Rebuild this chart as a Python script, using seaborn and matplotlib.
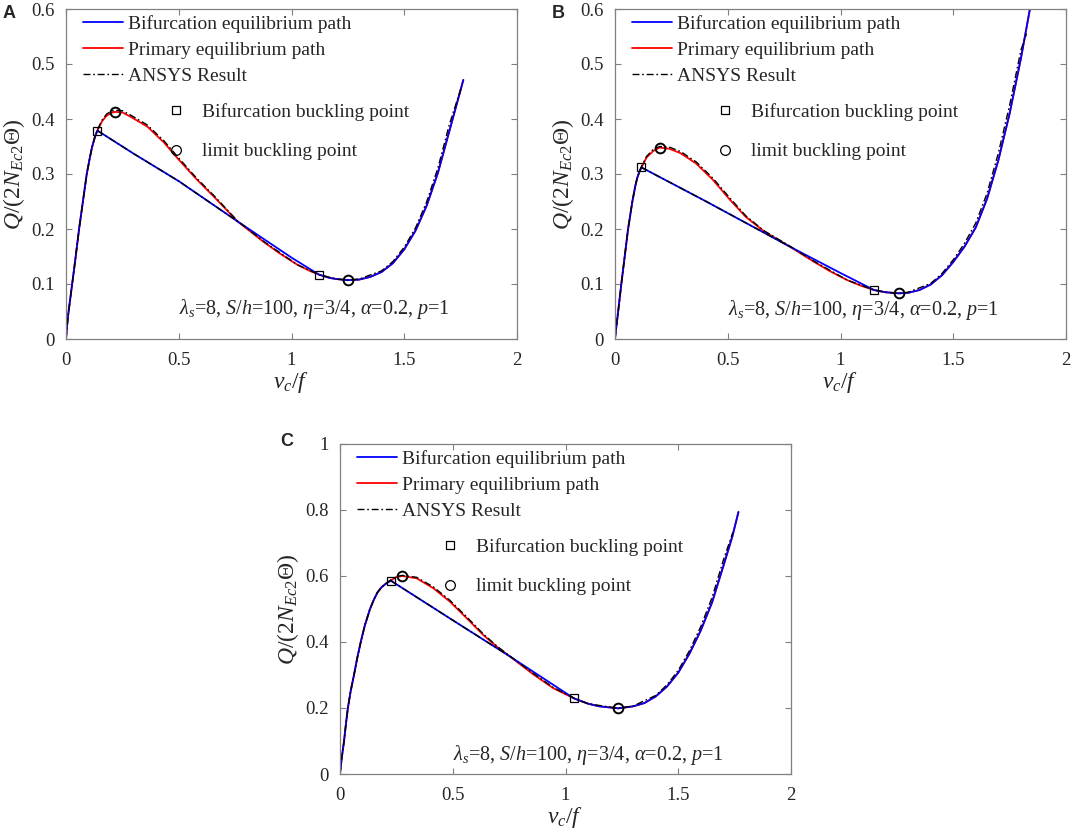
import numpy as np
import matplotlib
matplotlib.use("Agg")
import matplotlib.pyplot as plt
from matplotlib.lines import Line2D
import seaborn as sns

# ---------------- panel A ----------------
A_rise_x = [0, 0.005, 0.01, 0.021, 0.04, 0.058, 0.075, 0.092, 0.105, 0.115, 0.128, 0.139]
A_rise_y = [0, 0.025, 0.045, 0.08, 0.14, 0.2, 0.25, 0.3, 0.328, 0.348, 0.367, 0.379]
A_hump_x = [0.139, 0.16, 0.18, 0.2, 0.216, 0.25, 0.287, 0.361, 0.435, 0.5, 0.58, 0.66, 0.76, 0.878, 0.95, 1.026, 1.08, 1.122]
A_hump_y = [0.379, 0.396, 0.406, 0.411, 0.413, 0.412, 0.404, 0.386, 0.357, 0.326, 0.29, 0.257, 0.214, 0.176, 0.155, 0.135, 0.124, 0.117]
A_chord_x = [0.139, 0.3, 0.5, 0.76, 1.0, 1.122]
A_chord_y = [0.379, 0.337, 0.287, 0.214, 0.148, 0.117]
A_tail_x = [1.122, 1.17, 1.2, 1.25, 1.3, 1.35, 1.4, 1.45, 1.5, 1.55, 1.6, 1.65, 1.7, 1.73, 1.762]
A_tail_y = [0.117, 0.111, 0.109, 0.107, 0.108, 0.113, 0.122, 0.138, 0.163, 0.197, 0.243, 0.303, 0.378, 0.423, 0.471]
A_ansys_x = [0, 0.01, 0.021, 0.04, 0.058, 0.075, 0.092, 0.105, 0.115, 0.128, 0.139, 0.16, 0.18, 0.2, 0.216, 0.25, 0.287,
             0.361, 0.435, 0.5, 0.58, 0.66, 0.76, 0.878, 1.026, 1.122, 1.2, 1.25, 1.3, 1.4, 1.45, 1.5,
             1.55, 1.6, 1.65, 1.7, 1.755]
A_ansys_y = [0, 0.045, 0.08, 0.14, 0.2, 0.25, 0.3, 0.328, 0.348, 0.367, 0.38, 0.398, 0.409, 0.414, 0.416, 0.415, 0.407,
             0.389, 0.36, 0.329, 0.292, 0.259, 0.215, 0.177, 0.135, 0.117, 0.109, 0.107, 0.109, 0.124, 0.141, 0.167,
             0.202, 0.25, 0.312, 0.39, 0.46]
A_ansys_chord_x = [0.139, 0.3, 0.5, 0.76]
A_ansys_chord_y = [0.379, 0.337, 0.287, 0.214]
A_bif_x = [0.139, 1.122]
A_bif_y = [0.379, 0.117]
A_lim_x = [0.216, 1.25]
A_lim_y = [0.413, 0.107]

# ---------------- panel B ----------------
B_rise_x = [0, 0.004, 0.01, 0.018, 0.028, 0.043, 0.058, 0.077, 0.09, 0.098, 0.108, 0.117]
B_rise_y = [0, 0.016, 0.036, 0.064, 0.1, 0.15, 0.2, 0.25, 0.278, 0.292, 0.304, 0.312]
B_hump_x = [0.117, 0.14, 0.17, 0.198, 0.24, 0.29, 0.36, 0.435, 0.51, 0.58, 0.66, 0.775, 0.88, 0.95, 1.03, 1.09, 1.149]
B_hump_y = [0.312, 0.33, 0.342, 0.348, 0.346, 0.338, 0.319, 0.289, 0.253, 0.222, 0.196, 0.168, 0.141, 0.124, 0.107, 0.097, 0.089]
B_chord_x = [0.117, 0.4, 0.775, 1.0, 1.149]
B_chord_y = [0.312, 0.251, 0.168, 0.12, 0.089]
B_tail_x = [1.149, 1.2, 1.259, 1.3, 1.35, 1.4, 1.45, 1.5, 1.55, 1.6, 1.65, 1.7, 1.75, 1.8, 1.84, 1.87]
B_tail_y = [0.089, 0.085, 0.083, 0.084, 0.089, 0.099, 0.116, 0.14, 0.168, 0.203, 0.255, 0.325, 0.41, 0.51, 0.6, 0.67]
B_ansys_x = [0, 0.01, 0.018, 0.028, 0.043, 0.058, 0.077, 0.09, 0.098, 0.108, 0.117, 0.14, 0.17, 0.198, 0.24, 0.29, 0.36,
             0.435, 0.51, 0.58, 0.66, 0.775, 0.88, 1.03, 1.149, 1.2, 1.259, 1.3, 1.4, 1.45, 1.5,
             1.55, 1.6, 1.65, 1.7, 1.75, 1.8, 1.825]
B_ansys_y = [0, 0.036, 0.064, 0.1, 0.15, 0.2, 0.25, 0.278, 0.292, 0.304, 0.313, 0.332, 0.345, 0.35, 0.349, 0.341, 0.322,
             0.292, 0.256, 0.224, 0.197, 0.169, 0.142, 0.107, 0.089, 0.085, 0.083, 0.085, 0.101, 0.119, 0.144,
             0.174, 0.211, 0.265, 0.338, 0.425, 0.525, 0.555]
B_ansys_chord_x = [0.117, 0.4, 0.775]
B_ansys_chord_y = [0.312, 0.251, 0.168]
B_bif_x = [0.117, 1.149]
B_bif_y = [0.312, 0.089]
B_lim_x = [0.198, 1.259]
B_lim_y = [0.348, 0.083]

# ---------------- panel C ----------------
C_rise_x = [0, 0.004, 0.008, 0.013, 0.018, 0.026, 0.035, 0.047, 0.062, 0.076, 0.092, 0.11, 0.133, 0.15,
            0.166, 0.183, 0.2, 0.213, 0.225]
C_rise_y = [0, 0.025, 0.05, 0.075, 0.1, 0.15, 0.2, 0.25, 0.3, 0.35, 0.4, 0.45, 0.5, 0.528,
            0.55, 0.565, 0.575, 0.581, 0.586]
C_hump_x = [0.225, 0.25, 0.276, 0.34, 0.414, 0.488, 0.562, 0.636, 0.695, 0.754, 0.857, 0.946, 1.038]
C_hump_y = [0.586, 0.597, 0.6, 0.593, 0.563, 0.522, 0.472, 0.421, 0.386, 0.356, 0.302, 0.26, 0.229]
C_chord_x = [0.225, 0.5, 0.754, 1.038]
C_chord_y = [0.586, 0.466, 0.356, 0.229]
C_tail_x = [1.038, 1.1, 1.15, 1.234, 1.3, 1.35, 1.4, 1.45, 1.5, 1.55, 1.6, 1.65, 1.7, 1.74, 1.767]
C_tail_y = [0.229, 0.213, 0.205, 0.199, 0.205, 0.215, 0.235, 0.265, 0.307, 0.365, 0.435, 0.52, 0.63, 0.72, 0.794]
C_ansys_x = [0, 0.008, 0.018, 0.026, 0.035, 0.047, 0.062, 0.076, 0.092, 0.11, 0.133, 0.15, 0.166, 0.183, 0.2,
             0.213, 0.225, 0.25, 0.276, 0.34, 0.414,
             0.488, 0.562, 0.636, 0.695, 0.754, 0.857, 0.946, 1.038, 1.1, 1.234, 1.3, 1.4, 1.45,
             1.5, 1.55, 1.6, 1.65, 1.7, 1.742]
C_ansys_y = [0, 0.05, 0.1, 0.15, 0.2, 0.25, 0.3, 0.35, 0.4, 0.45, 0.5, 0.528, 0.55, 0.565, 0.576,
             0.582, 0.588, 0.598, 0.602, 0.596, 0.567,
             0.526, 0.476, 0.424, 0.388, 0.357, 0.305, 0.262, 0.23, 0.213, 0.199, 0.206, 0.238, 0.27,
             0.314, 0.374, 0.447, 0.535, 0.648, 0.732]
C_ansys_chord_x = [0.225, 0.5, 0.754]
C_ansys_chord_y = [0.586, 0.466, 0.356]
C_bif_x = [0.225, 1.038]
C_bif_y = [0.586, 0.229]
C_lim_x = [0.276, 1.234]
C_lim_y = [0.6, 0.199]

legend_lines = ["Bifurcation equilibrium path", "Primary equilibrium path", "ANSYS Result"]
legend_points = ["Bifurcation buckling point", "limit buckling point"]
param_text = r"$\lambda_s$=8, $S/h$=100, $\eta$=3/4, $\alpha$=0.2, $p$=1"

BLUE = "#0000ff"
RED = "#ff0000"
DASHDOT = (0, (5, 2, 1.2, 2))
AXC = "#808080"
FS = 14

sns.set_style("ticks")
plt.rcParams["font.family"] = ["Liberation Serif", "DejaVu Serif"]
plt.rcParams["mathtext.fontset"] = "custom"
plt.rcParams["mathtext.rm"] = "Liberation Serif"
plt.rcParams["mathtext.it"] = "Liberation Serif:italic"
plt.rcParams["mathtext.bf"] = "Liberation Serif:bold"

fig = plt.figure(figsize=(10.72, 8.38), dpi=100)
W, H = 1072, 838


def make_axes(left_px, top_px):
    return fig.add_axes([left_px / W, 1 - (top_px + 330) / H, 451 / W, 330 / H])


def draw_panel(ax, d, ymax, yticks, text_y):
    rise_x, rise_y, hump_x, hump_y, chord_x, chord_y, tail_x, tail_y = d[:8]
    ans_x, ans_y, ans_cx, ans_cy, bif_x, bif_y, lim_x, lim_y = d[8:]

    prim_x = rise_x + hump_x[1:] + tail_x[1:]
    prim_y = rise_y + hump_y[1:] + tail_y[1:]
    bif_path_x = rise_x + chord_x[1:] + tail_x[1:]
    bif_path_y = rise_y + chord_y[1:] + tail_y[1:]

    sns.lineplot(x=prim_x, y=prim_y, sort=False, estimator=None, color=RED, lw=1.3, ax=ax)
    sns.lineplot(x=bif_path_x, y=bif_path_y, sort=False, estimator=None, color=BLUE, lw=1.3, ax=ax)
    sns.lineplot(x=ans_x, y=ans_y, sort=False, estimator=None, color="k", lw=1.0,
                 linestyle=DASHDOT, ax=ax)
    sns.lineplot(x=ans_cx, y=ans_cy, sort=False, estimator=None, color="k", lw=1.0,
                 linestyle=DASHDOT, ax=ax)
    ax.plot(bif_x, bif_y, ls="none", marker="s", ms=5.5, mfc="none", mec="k", mew=0.9)
    ax.plot(lim_x, lim_y, ls="none", marker="o", ms=7, mfc="none", mec="k", mew=1.4)

    ax.set_xlim(0, 2)
    ax.set_ylim(0, ymax)
    ax.set_xticks([0, 0.5, 1, 1.5, 2])
    ax.set_xticklabels(["0", "0.5", "1", "1.5", "2"])
    ax.set_yticks(yticks)
    ax.set_yticklabels([("%g" % t) for t in yticks])
    ax.tick_params(direction="in", length=4, width=0.8, color=AXC, labelsize=13.5,
                   top=True, right=True, pad=8)
    ax.tick_params(axis="x", pad=9)
    for sp in ax.spines.values():
        sp.set_visible(True)
        sp.set_color(AXC)
        sp.set_linewidth(0.9)
    ax.set_xlabel(r"$v_c/f$", fontsize=17, labelpad=1)
    ax.set_ylabel(r"$Q$/(2$N_{Ec2}$Θ)", fontsize=17, labelpad=3)

    h1 = [Line2D([], [], color=BLUE, lw=1.3),
          Line2D([], [], color=RED, lw=1.3),
          Line2D([], [], color="k", lw=1.0, linestyle=DASHDOT)]
    leg1 = ax.legend(h1, legend_lines, loc="upper left", bbox_to_anchor=(16.5 / 451, 1 - 6 / 330),
                     frameon=False, fontsize=FS, handlelength=2.06, handletextpad=0.26,
                     labelspacing=0.43, borderpad=0, borderaxespad=0)
    ax.add_artist(leg1)
    h2 = [Line2D([], [], ls="none", marker="s", ms=5.5, mfc="none", mec="k", mew=0.9),
          Line2D([], [], ls="none", marker="o", ms=7, mfc="none", mec="k", mew=0.9)]
    ax.legend(h2, legend_points, loc="upper left", bbox_to_anchor=(100.3 / 451, 1 - 94 / 330),
              frameon=False, fontsize=FS, handlelength=1.0, handletextpad=0.84,
              labelspacing=1.13, borderpad=0, borderaxespad=0)

    ax.text(0.55, text_y, param_text, transform=ax.transAxes, ha="center", va="center",
            fontsize=14.5)


axA = make_axes(66, 9)
axB = make_axes(615, 9)
axC = make_axes(340, 444)

draw_panel(axA, [A_rise_x, A_rise_y, A_hump_x, A_hump_y, A_chord_x, A_chord_y, A_tail_x, A_tail_y,
                 A_ansys_x, A_ansys_y, A_ansys_chord_x, A_ansys_chord_y, A_bif_x, A_bif_y, A_lim_x, A_lim_y],
           0.6, [0, 0.1, 0.2, 0.3, 0.4, 0.5, 0.6], 0.09)
draw_panel(axB, [B_rise_x, B_rise_y, B_hump_x, B_hump_y, B_chord_x, B_chord_y, B_tail_x, B_tail_y,
                 B_ansys_x, B_ansys_y, B_ansys_chord_x, B_ansys_chord_y, B_bif_x, B_bif_y, B_lim_x, B_lim_y],
           0.6, [0, 0.1, 0.2, 0.3, 0.4, 0.5, 0.6], 0.089)
draw_panel(axC, [C_rise_x, C_rise_y, C_hump_x, C_hump_y, C_chord_x, C_chord_y, C_tail_x, C_tail_y,
                 C_ansys_x, C_ansys_y, C_ansys_chord_x, C_ansys_chord_y, C_bif_x, C_bif_y, C_lim_x, C_lim_y],
           1.0, [0, 0.2, 0.4, 0.6, 0.8, 1.0], 0.057)

for lab, xp, yp in [("A", 9, 13), ("B", 558, 13), ("C", 287, 442)]:
    fig.text(xp / W, 1 - yp / H, lab, ha="center", va="center", fontsize=13,
             fontweight="bold", family="Liberation Sans")

fig.savefig("out.png", dpi=100)
